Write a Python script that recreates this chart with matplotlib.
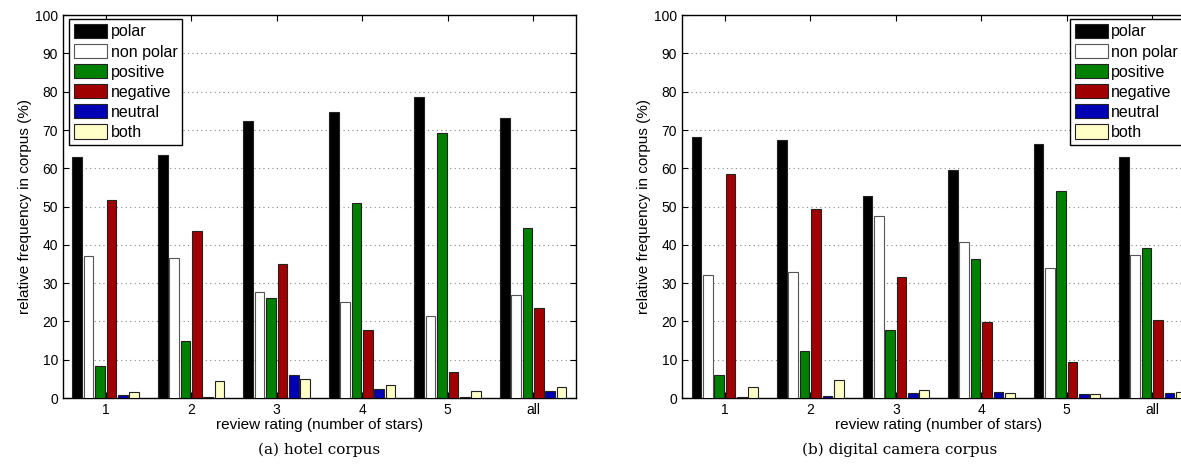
import numpy as np
import matplotlib
matplotlib.use("Agg")
import matplotlib.pyplot as plt

# categories and series
groups = ['1', '2', '3', '4', '5', 'all']
series = ['polar', 'non polar', 'positive', 'negative', 'neutral', 'both']
colors = ['#000000', '#ffffff', '#008000', '#a00000', '#0000b4', '#ffffc8']

# (a) hotel corpus
hotel_polar = [62.9, 63.5, 72.3, 74.8, 78.6, 73.1]
hotel_nonpolar = [37.1, 36.5, 27.7, 25.2, 21.4, 26.9]
hotel_positive = [8.4, 14.8, 26.1, 51.0, 69.3, 44.5]
hotel_negative = [51.7, 43.7, 35.0, 17.8, 6.8, 23.4]
hotel_neutral = [0.7, 0.3, 5.9, 2.3, 0.3, 1.8]
hotel_both = [1.7, 4.5, 5.1, 3.5, 1.8, 3.0]

# (b) digital camera corpus
camera_polar = [68.2, 67.4, 52.9, 59.6, 66.3, 63.0]
camera_nonpolar = [32.1, 32.9, 47.5, 40.7, 34.0, 37.4]
camera_positive = [6.0, 12.3, 17.7, 36.3, 54.2, 39.3]
camera_negative = [58.6, 49.4, 31.6, 19.9, 9.5, 20.5]
camera_neutral = [0.3, 0.6, 1.2, 1.7, 1.1, 1.2]
camera_both = [3.0, 4.7, 2.0, 1.4, 1.1, 1.6]

hotel = [hotel_polar, hotel_nonpolar, hotel_positive, hotel_negative, hotel_neutral, hotel_both]
camera = [camera_polar, camera_nonpolar, camera_positive, camera_negative, camera_neutral, camera_both]

plt.rcParams['font.family'] = ['Liberation Sans Narrow', 'Liberation Sans', 'DejaVu Sans']

fig = plt.figure(figsize=(11.81, 4.75), dpi=100)
ax1 = fig.add_axes([0.0533, 0.162, 0.4344, 0.806])
ax2 = fig.add_axes([0.5775, 0.162, 0.4344, 0.806])

x = np.arange(1, len(groups) + 1)
step = 0.133
width = 0.112


def draw(ax, data, legend_x):
    for i, (vals, c) in enumerate(zip(data, colors)):
        off = (i - 2.5) * step
        ec = '#555555' if c == '#ffffff' else '#222222'
        ax.bar(x + off, vals, width, color=c, edgecolor=ec, linewidth=0.8,
               label=series[i], zorder=3)
    ax.set_xlim(0.5, 6.5)
    ax.set_ylim(0, 100)
    ax.set_xticks(x)
    ax.set_xticklabels(groups)
    ax.set_yticks(range(0, 101, 10))
    ax.yaxis.grid(True, linestyle=(0, (1, 3)), color='#888888', linewidth=0.8, zorder=0)
    ax.tick_params(direction='in', top=True, right=True, labelsize=10, length=4)
    ax.set_xlabel('review rating (number of stars)', fontsize=11, labelpad=1)
    ax.set_ylabel('relative frequency in corpus (%)', fontsize=11, labelpad=2)
    for s in ax.spines.values():
        s.set_linewidth(1.0)
    leg = ax.legend(loc='upper left', bbox_to_anchor=(legend_x, 0.99), fontsize=11.5,
                    handlelength=2.1, handleheight=1.0, labelspacing=0.28,
                    borderpad=0.3, handletextpad=0.2, borderaxespad=0,
                    fancybox=False, framealpha=1)
    leg.get_frame().set_edgecolor('black')
    leg.get_frame().set_linewidth(1.0)


draw(ax1, hotel, 0.012)
draw(ax2, camera, 0.756)

fig.text(0.2705, 0.045, '(a) hotel corpus', ha='center', fontsize=11, family='DejaVu Serif')
fig.text(0.7615, 0.045, '(b) digital camera corpus', ha='center', fontsize=11, family='DejaVu Serif')

fig.savefig('out.png', dpi=100)
